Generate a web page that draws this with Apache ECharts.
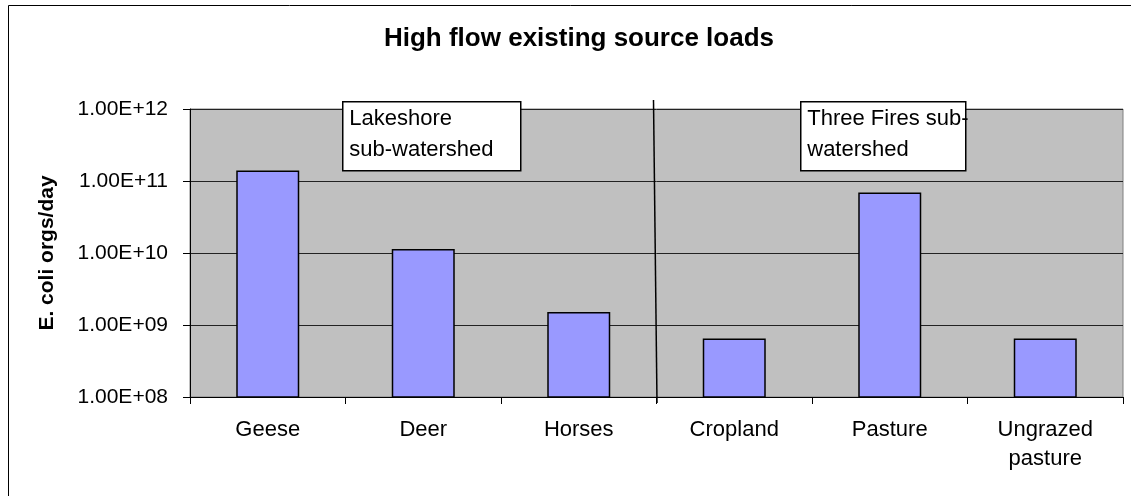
<!DOCTYPE html>
<html>
<head>
<meta charset="utf-8">
<script src="https://cdn.jsdelivr.net/npm/echarts@6/dist/echarts.min.js"></script>
<style>
html,body{margin:0;padding:0;background:#fff;}
#c{width:1131px;height:496px;}
</style>
</head>
<body>
<div id="c"></div>
<script>
var categories = ['Geese', 'Deer', 'Horses', 'Cropland', 'Pasture', 'Ungrazed\npasture'];
var loads = [1.4e11, 1.14e10, 1.52e9, 6.5e8, 6.9e10, 6.5e8];
var yMin = 1e8, yMax = 1e12;
var titleText = 'High flow existing source loads';
var yName = 'E. coli orgs/day';
var groupLabels = ['Lakeshore\nsub-watershed', 'Three Fires sub-\nwatershed'];

var FONT = '"Liberation Sans", Arial, sans-serif';
var chart = echarts.init(document.getElementById('c'), null, {renderer: 'canvas'});

function sci(v) {
  var e = Math.round(Math.log10(v));
  var m = v / Math.pow(10, e);
  var es = (e < 0 ? '-' : '+') + (Math.abs(e) < 10 ? '0' : '') + Math.abs(e);
  return m.toFixed(2) + 'E' + es;
}

var option = {
  backgroundColor: '#fff',
  animation: false,
  title: {
    text: titleText,
    left: 574, top: 21, textAlign: 'center',
    textStyle: {fontFamily: FONT, fontSize: 26, fontWeight: 'bold', color: '#000'}
  },
  grid: {
    left: 190, right: 8, top: 109, bottom: 99,
    show: true, backgroundColor: '#C0C0C0', borderColor: '#808080', borderWidth: 1
  },
  xAxis: {
    type: 'category',
    data: categories,
    axisLine: {lineStyle: {color: '#000', width: 1}},
    axisTick: {show: true, length: 7, lineStyle: {color: '#000'}},
    axisLabel: {fontFamily: FONT, fontSize: 22, color: '#000', margin: 18, lineHeight: 29, interval: 0}
  },
  yAxis: {
    type: 'log', logBase: 10, min: yMin, max: yMax,
    name: yName, nameLocation: 'middle', nameRotate: 90, nameGap: 132,
    nameTextStyle: {fontFamily: FONT, fontSize: 21, fontWeight: 'bold', color: '#000'},
    axisLine: {show: true, lineStyle: {color: '#000', width: 1}},
    axisTick: {show: true, length: 7, lineStyle: {color: '#000'}},
    splitLine: {show: true, lineStyle: {color: '#222', width: 1}},
    axisLabel: {
      fontFamily: FONT, fontSize: 21, color: '#000', margin: 22,
      formatter: function (v) { return sci(Number(v)); }
    }
  },
  series: [{
    type: 'bar',
    data: loads,
    barWidth: 63,
    clip: true,
    itemStyle: {color: '#9999FF', borderColor: '#000', borderWidth: 1.5}
  }]
};
chart.setOption(option);

// Annotations computed from the chart's scales
var xLeft = chart.convertToPixel({xAxisIndex: 0}, 0);
var xNext = chart.convertToPixel({xAxisIndex: 0}, 1);
var step = xNext - xLeft;
var divX = chart.convertToPixel({xAxisIndex: 0}, 2) + step / 2;
var yTop = chart.convertToPixel({yAxisIndex: 0}, yMax);
var yBot = chart.convertToPixel({yAxisIndex: 0}, yMin);

chart.setOption({
  graphic: [
    {type: 'rect', silent: true, shape: {x: 8.5, y: 5.5, width: 1140, height: 520},
     style: {fill: null, stroke: '#000', lineWidth: 1}, z: 100},
    {type: 'line', silent: true, shape: {x1: divX - 3, y1: yTop - 9, x2: divX + 0.5, y2: yBot + 6},
     style: {stroke: '#000', lineWidth: 1.5}, z: 100},
    {type: 'group', left: 342, top: 101, z: 100, children: [
      {type: 'rect', shape: {x: 0.5, y: 0.5, width: 178, height: 69},
       style: {fill: '#fff', stroke: '#000', lineWidth: 1.5}},
      {type: 'text', x: 7, y: 2,
       style: {text: groupLabels[0], font: '22px ' + FONT, fill: '#000', lineHeight: 31}}
    ]},
    {type: 'group', left: 800, top: 101, z: 100, children: [
      {type: 'rect', shape: {x: 0.5, y: 0.5, width: 165, height: 69},
       style: {fill: '#fff', stroke: '#000', lineWidth: 1.5}},
      {type: 'text', x: 7, y: 2,
       style: {text: groupLabels[1], font: '22px ' + FONT, fill: '#000', lineHeight: 31}}
    ]}
  ]
});
</script>
</body>
</html>
